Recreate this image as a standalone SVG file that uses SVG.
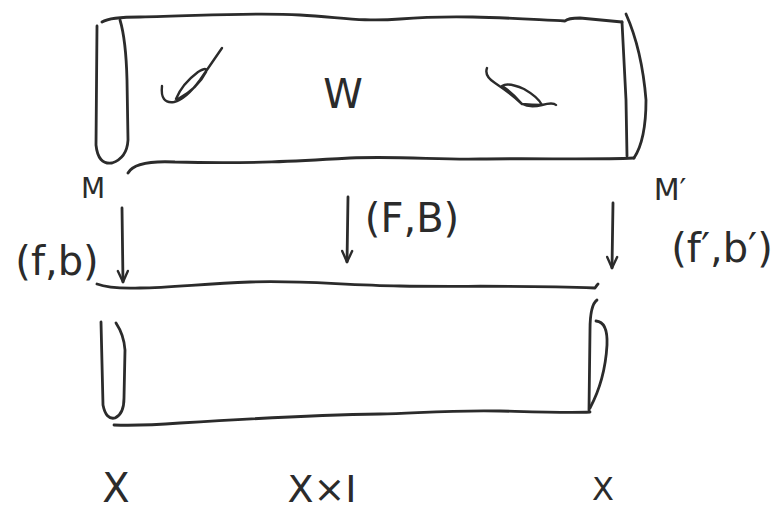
<svg xmlns="http://www.w3.org/2000/svg" width="781" height="510" viewBox="0 0 781 510">
<style>
.ink{fill:none;stroke:#2b2b2b;stroke-width:2.8;stroke-linecap:round;stroke-linejoin:round}
.thin{fill:none;stroke:#2b2b2b;stroke-width:2.4;stroke-linecap:round;stroke-linejoin:round}
.lbl{font-family:"DejaVu Sans","Liberation Sans",sans-serif;fill:#2b2b2b;font-weight:normal}
</style>
<defs>
<marker id="arr" viewBox="0 0 14 14" refX="13" refY="7" markerWidth="14" markerHeight="14" markerUnits="userSpaceOnUse" orient="auto">
<path d="M2,2 L13,7 L2,12" fill="none" stroke="#2b2b2b" stroke-width="2.4" stroke-linecap="round" stroke-linejoin="round"/>
</marker>
</defs>
<rect width="781" height="510" fill="#ffffff"/>

<g id="top-cylinder">
<path class="ink" d="M102,22 Q110,17 140,17 C200,16 250,12 300,15 C340,17 360,22 400,19 C460,14 520,19 565,21 Q568,18 580,18 L622,22"/>
<path class="ink" d="M97,26 L96,145 Q98,165 112,163 Q127,158 128,140 L127,80 Q126,40 120,20"/>
<path class="ink" d="M622,22 L626,100 L627,156"/>
<path class="ink" d="M626,14 Q642,50 646,100 Q646,140 634,158"/>
<path class="ink" d="M128,173 Q135,160 175,162 C250,164 300,161 350,158 C400,156 440,160 480,159 C540,158 590,160 634,158"/>
<path class="thin" d="M162,86 Q160,104 174,102 Q186,99 200,80 L222,48 M176,99 Q182,84 198,72 Q208,66 206,72 Q198,88 178,99"/>
<path class="thin" d="M487,68 Q484,76 495,83 Q510,93 522,104 Q530,108 542,105 Q553,102 556,105 M522,104 Q512,92 502,86 Q508,82 524,89 Q538,97 542,105 Q532,105 522,104"/>
<text class="lbl" x="343" y="108" font-size="40" text-anchor="middle">W</text>
</g>

<g id="bottom-cylinder">
<path class="ink" d="M97,284 Q110,289 140,288 C170,288 200,284 250,282 C300,280 340,285 400,286 C460,287 520,285 595,288 Q597,285 598,284"/>
<path class="ink" d="M101,322 L103,405 Q106,420 115,418 Q124,414 124,398 L125,350 Q124,335 116,323"/>
<path class="ink" d="M114,425 Q140,426 180,423 C260,418 320,415 380,414 C420,413 450,410 500,411 C540,412 570,413 590,412"/>
<path class="ink" d="M597,300 Q590,305 590,330 L589,410"/>
<path class="ink" d="M596,321 Q608,322 607,345 Q605,380 590,408"/>
</g>

<g id="connectors">
<path class="ink" d="M122,208 L123,282" marker-end="url(#arr)"/>
<path class="ink" d="M348,197 L347,262" marker-end="url(#arr)"/>
<path class="ink" d="M613,203 L612,268" marker-end="url(#arr)"/>
</g>

<g id="labels">
<text class="lbl" x="93" y="198" font-size="28" text-anchor="middle">M</text>
<text class="lbl" x="57" y="275" font-size="40" text-anchor="middle">(f,b)</text>
<text class="lbl" x="412" y="232" font-size="40" text-anchor="middle">(F,B)</text>
<text class="lbl" x="670" y="200" font-size="30" text-anchor="middle">M′</text>
<text class="lbl" x="722" y="262" font-size="40" text-anchor="middle">(f′,b′)</text>
<text class="lbl" x="116" y="502" font-size="40" text-anchor="middle">X</text>
<text class="lbl" x="322" y="502" font-size="38" text-anchor="middle">X×I</text>
<text class="lbl" x="603" y="500" font-size="32" text-anchor="middle">X</text>
</g>
</svg>
